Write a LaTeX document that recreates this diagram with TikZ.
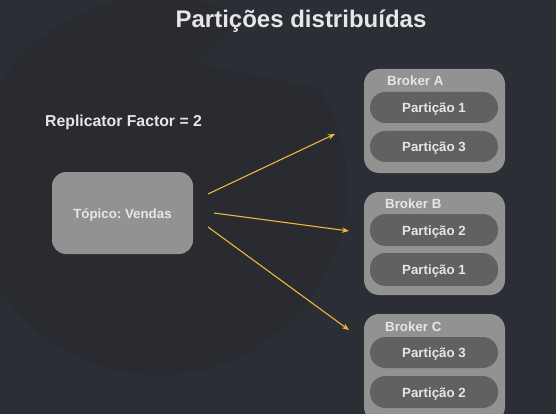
\documentclass[tikz,border=0pt]{standalone}
\usepackage{fontspec}
\setmainfont{Liberation Sans}
\usetikzlibrary{arrows.meta}
\frenchspacing
\definecolor{bgout}{HTML}{2C2E35}
\definecolor{bgdisc}{HTML}{292B31}
\definecolor{boxgray}{HTML}{929292}
\definecolor{pillgray}{HTML}{616161}
\definecolor{txtlight}{HTML}{E6E6E6}
\definecolor{arrowyel}{HTML}{EDB73A}
\tikzset{
  brokerbox/.style={draw=none,fill=boxgray,rounded corners=15pt},
  pillbox/.style={draw=none,fill=pillgray,rounded corners=15.5pt},
  pilltext/.style={text=txtlight,font=\fontsize{13.3}{15}\selectfont\bfseries,inner sep=0pt,anchor=base},
  brokerlabel/.style={text=txtlight,font=\fontsize{13.3}{15}\selectfont\bfseries,inner sep=0pt,anchor=base west},
  flow/.style={draw=arrowyel,line width=1.1pt,-{Stealth[length=7pt,width=5.5pt]}},
}
\begin{document}
\begin{tikzpicture}[x=1pt,y=-1pt]
\useasboundingbox (0,0) rectangle (556,414);
\fill[bgout] (0,0) rectangle (556,414);
\fill[bgdisc] (158,186) circle[radius=189];
\fill[bgout] (198,63) -- (228,30) -- (350,-5) -- (372,100) -- cycle;
% title
\node[text=txtlight,font=\fontsize{24}{28}\selectfont\bfseries,anchor=base,inner sep=0pt] (title) at (301,28) {Partições distribuídas};
\node[text=txtlight,font=\fontsize{15.8}{18}\selectfont\bfseries,anchor=base west,inner sep=0pt] (repl) at (45,127) {Replicator Factor = 2};
% topic
\fill[boxgray,rounded corners=14pt] (52,172) rectangle (193,254);
\node[text=txtlight,font=\fontsize{13.3}{15}\selectfont\bfseries,inner sep=0pt,anchor=base] (topic) at (122.5,218) {Tópico: Vendas};
% brokers
\fill[brokerbox] (364,69) rectangle (505,173);
\fill[brokerbox] (364,192) rectangle (505,295);
\fill[brokerbox] (364,314) rectangle (505,422);
\node[brokerlabel] (la) at (387,86) {Broker A};
\node[brokerlabel] (lb) at (385,208) {Broker B};
\node[brokerlabel] (lc) at (385,331) {Broker C};
% pills
\fill[pillbox] (370,92) rectangle (498,123);
\fill[pillbox] (370,131) rectangle (498,162);
\fill[pillbox] (370,214) rectangle (498,246);
\fill[pillbox] (370,253) rectangle (498,286);
\fill[pillbox] (370,337) rectangle (498,368);
\fill[pillbox] (370,376) rectangle (498,408);
\node[pilltext] (a1) at (434,112.5) {Partição 1};
\node[pilltext] (a3) at (434,151.5) {Partição 3};
\node[pilltext] (b2) at (434,235) {Partição 2};
\node[pilltext] (b1) at (434,274.5) {Partição 1};
\node[pilltext] (c3) at (434,357.5) {Partição 3};
\node[pilltext] (c2) at (434,397) {Partição 2};
% arrows
\coordinate (s1) at (208,194);
\coordinate (e1) at (335,134);
\coordinate (s2) at (214,213);
\coordinate (e2) at (349,231);
\coordinate (s3) at (208,227);
\coordinate (e3) at (349,330);
\draw[flow] (s1) -- (e1);
\draw[flow] (s2) -- (e2);
\draw[flow] (s3) -- (e3);
\end{tikzpicture}
\end{document}
